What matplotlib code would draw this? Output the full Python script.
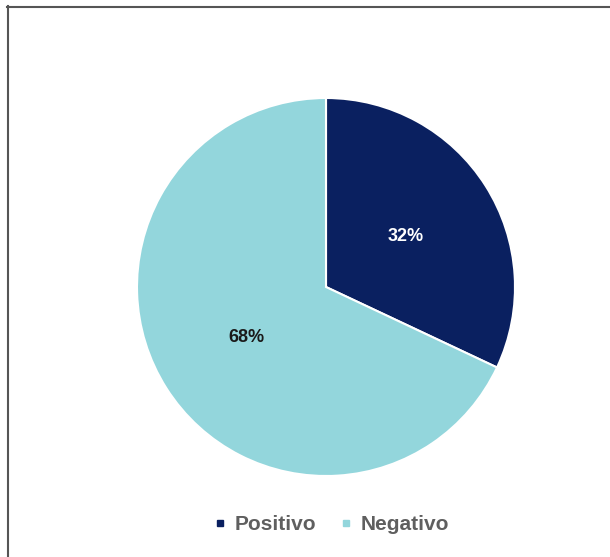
import matplotlib.pyplot as plt
from matplotlib.lines import Line2D

categorias = ["Positivo", "Negativo"]
porcentajes = [32, 68]
colores = ["#0A2060", "#93D6DC"]

plt.rcParams["font.family"] = ["Liberation Sans", "DejaVu Sans"]

fig = plt.figure(figsize=(6.10, 5.57), dpi=100)
fig.patch.set_facecolor("white")

# pie area: square in pixels, centred near the middle-top of the frame
ax = fig.add_axes([137 / 610, 81 / 557, 378 / 610, 378 / 557])
wedges, texts, autotexts = ax.pie(
    porcentajes,
    colors=colores,
    startangle=90,
    counterclock=False,
    autopct="%.0f%%",
    pctdistance=0.5,
    wedgeprops=dict(edgecolor="white", linewidth=1.5),
    textprops=dict(fontsize=13, fontweight="bold"),
)
ax.set_xlim(-1, 1)
ax.set_ylim(-1, 1)
ax.set_aspect("auto")
autotexts[0].set_color("white")
autotexts[1].set_color("#1a1a1a")

handles = [
    Line2D([0], [0], marker="s", linestyle="none", markersize=4.5,
           markerfacecolor=c, markeredgecolor=c)
    for c in colores
]
leg = fig.legend(
    handles, categorias,
    loc="center", bbox_to_anchor=(332 / 610, 1 - 525 / 557),
    ncol=2, frameon=False, handlelength=0.5, handletextpad=0.45,
    columnspacing=1.2, prop=dict(size=15, weight="bold"),
)
for t in leg.get_texts():
    t.set_color("#5f5f5f")

# frame edges on the left and top
fig.add_artist(Line2D([7.5 / 610, 7.5 / 610], [0, 1 - 6 / 557],
                      transform=fig.transFigure, color="#555555", lw=1.5))
fig.add_artist(Line2D([7 / 610, 1], [1 - 6.5 / 557, 1 - 6.5 / 557],
                      transform=fig.transFigure, color="#555555", lw=1.5))

fig.savefig("out.png", dpi=100)
